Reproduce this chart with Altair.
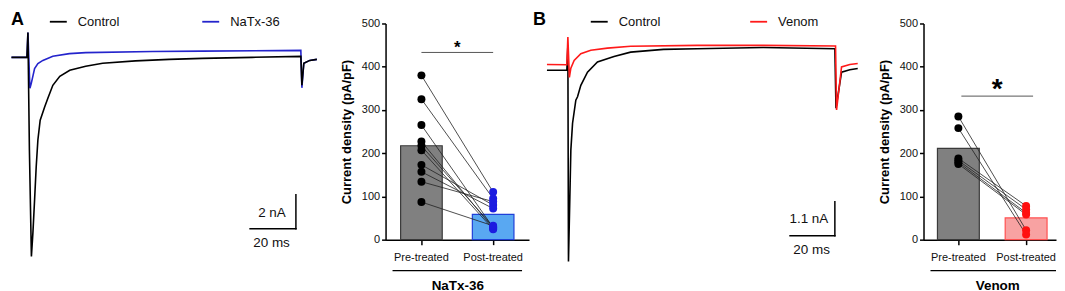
import altair as alt
import pandas as pd

FONT = "Liberation Sans"

# ---------------- Panel A traces (time in ms, current in nA) ----------------
a_ctrl_t = [0.2, 6.96, 7.39, 8.04, 8.91, 9.57, 10.3, 11.0, 11.74, 12.74, 14.65, 16.09, 18.26,
            21.3, 25.65, 32.6, 40.0, 54.3, 69.1, 83.5, 105.2, 126.5, 126.96, 127.8, 130.4, 133.5]
a_ctrl_i = [0.0, 0.0, 1.47, -5.47, -11.76, -10.35, -8.41, -6.47, -4.88, -3.71, -2.94, -2.41, -1.65,
            -1.12, -0.76, -0.53, -0.35, -0.21, -0.12, -0.06, 0.0, 0.06, -1.65, -0.35, -0.18, -0.12]
a_trt_t = [0.2, 6.96, 7.39, 8.26, 8.83, 10.3, 11.74, 13.91, 18.26, 25.5, 32.6, 61.7, 83.5,
           126.5, 126.96, 127.8, 130.4, 133.5]
a_trt_i = [0.0, 0.0, 1.47, -1.82, -1.55, -0.66, -0.37, -0.18, 0.06, 0.22, 0.28, 0.35, 0.37,
           0.41, -1.80, -0.35, -0.18, -0.12]

# ---------------- Panel B traces ----------------
b_ctrl_t = [3.56, 12.44, 12.89, 13.16, 13.91, 14.22, 14.98, 16.44, 17.2, 18.67, 21.64, 26.09,
            33.47, 40.89, 55.56, 70.53, 100.0, 132.0, 132.5, 134.98, 138.67, 142.2]
b_ctrl_i = [0.0, 0.0, 0.81, -6.21, -3.66, -2.59, -1.72, -0.97, -0.86, -0.49, -0.06, 0.27,
            0.45, 0.59, 0.68, 0.70, 0.74, 0.70, -1.23, -0.06, 0.02, 0.06]
b_trt_t = [3.56, 12.44, 12.89, 13.56, 14.22, 15.69, 18.67, 23.11, 30.53, 40.89, 70.53, 100.0,
           132.3, 132.76, 134.98, 138.67, 142.2]
b_trt_i = [0.19, 0.18, 1.08, -0.23, 0.07, 0.32, 0.54, 0.65, 0.72, 0.78, 0.81, 0.81,
           0.79, -1.29, 0.11, 0.19, 0.22]

# ---------------- Bar data (pA/pF), paired by index ----------------
groups = ["Pre-treated", "Post-treated"]
a_pre = [380, 325, 265, 227, 217, 207, 173, 157, 134, 87]
a_post = [110, 95, 28, 26, 30, 24, 80, 72, 88, 32]
b_pre = [285, 258, 188, 183, 179, 175]
b_post = [22, 12, 78, 70, 62, 58]


def trace_panel(ctrl_t, ctrl_i, trt_t, trt_i, trt_name, trt_color, width, height, xdom, ydom,
                ctrl_on_top, letter, letter_x, legend_x, col_pad, sb_t, sb_i, sb_ms, sb_na,
                na_label, na_xy, ms_xy):
    ctrl = pd.DataFrame({"t": ctrl_t, "i": ctrl_i, "k": list(range(len(ctrl_t))), "cond": "Control"})
    trt = pd.DataFrame({"t": trt_t, "i": trt_i, "k": list(range(len(trt_t))), "cond": trt_name})
    xsc = alt.Scale(domain=xdom, nice=False, zero=False)
    ysc = alt.Scale(domain=ydom, nice=False, zero=False)
    color = alt.Color(
        "cond:N",
        scale=alt.Scale(domain=["Control", trt_name], range=["#000000", trt_color]),
        legend=alt.Legend(title=None, orient="none", legendX=legend_x, legendY=-11.5,
                          direction="horizontal", symbolType="stroke", symbolSize=289,
                          symbolStrokeWidth=1.8, labelFontSize=13, labelOffset=10,
                          columnPadding=col_pad, padding=0, labelColor="#111111"),
    )

    def line(df):
        return alt.Chart(df).mark_line(strokeWidth=1.6).encode(
            x=alt.X("t:Q", scale=xsc, axis=None),
            y=alt.Y("i:Q", scale=ysc, axis=None),
            color=color, order="k:Q")

    layers = [line(trt), line(ctrl)] if ctrl_on_top else [line(ctrl), line(trt)]

    hdf = pd.DataFrame({"x1": [sb_t - sb_ms], "x2": [sb_t], "y": [sb_i]})
    hrule = alt.Chart(hdf).mark_rule(strokeWidth=1.5, color="black", strokeCap="square").encode(
        x=alt.X("x1:Q", scale=xsc, axis=None), x2="x2:Q", y=alt.Y("y:Q", scale=ysc, axis=None))
    vdf = pd.DataFrame({"x": [sb_t], "y1": [sb_i], "y2": [sb_i + sb_na]})
    vrule = alt.Chart(vdf).mark_rule(strokeWidth=1.5, color="black", strokeCap="square").encode(
        x=alt.X("x:Q", scale=xsc, axis=None), y=alt.Y("y1:Q", scale=ysc, axis=None), y2="y2:Q")
    tdf = pd.DataFrame({"x": [na_xy[0], ms_xy[0]], "y": [na_xy[1], ms_xy[1]],
                        "label": [na_label, f"{sb_ms:g} ms"]})
    sbtext = alt.Chart(tdf).mark_text(fontSize=13.5, align="center", baseline="middle",
                                      color="#111111").encode(
        x=alt.X("x:Q", scale=xsc, axis=None), y=alt.Y("y:Q", scale=ysc, axis=None), text="label:N")
    ldf = pd.DataFrame({"label": [letter]})
    let = alt.Chart(ldf).mark_text(fontSize=18, fontWeight="bold", align="left", baseline="top",
                                   color="black").encode(
        x=alt.value(letter_x), y=alt.value(-12), text="label:N")
    return alt.layer(*layers, hrule, vrule, sbtext, let).properties(width=width, height=height)


def bar_panel(pre, post, xtitle, post_fill, post_stroke, post_point, width, pad_inner,
              pad_outer, align, title_x, sig_value, star_size, star_dy, sig_x1, sig_x2,
              br_x1, br_x2):
    n = len(pre)
    df = pd.DataFrame({"group": [groups[0]] * n + [groups[1]] * n,
                       "value": list(pre) + list(post),
                       "pair": list(range(n)) * 2})
    xenc = alt.X("group:N",
                 scale=alt.Scale(domain=groups, paddingInner=pad_inner, paddingOuter=pad_outer,
                                 align=align),
                 axis=alt.Axis(title=xtitle, labelAngle=0, labelFontSize=11, labelPadding=7,
                               tickSize=5, titleFontSize=13.5, titleFontWeight="bold",
                               titlePadding=16, titleX=title_x, titleAlign="center",
                               domainColor="black", domainWidth=1.5,
                               tickColor="black", tickWidth=1.5, labelColor="#111111",
                               titleColor="black"))

    def yenc(field):
        return alt.Y(field, scale=alt.Scale(domain=[0, 500], nice=False),
                     axis=alt.Axis(values=[0, 100, 200, 300, 400, 500],
                                   title="Current density (pA/pF)", titleFontSize=13,
                                   titleFontWeight="bold", titlePadding=8, labelFontSize=11,
                                   labelPadding=2, tickSize=4, domainColor="black",
                                   domainWidth=1.5, tickColor="black", tickWidth=1.5,
                                   grid=False, labelColor="#111111", titleColor="black"))

    bars = alt.Chart(df).mark_bar(strokeWidth=1.2).encode(
        x=xenc, y=yenc("mean(value):Q"),
        fill=alt.Fill("group:N", scale=alt.Scale(domain=groups, range=["#808080", post_fill]), legend=None),
        stroke=alt.Stroke("group:N", scale=alt.Scale(domain=groups, range=["#3a3a3a", post_stroke]), legend=None))
    lines = alt.Chart(df).mark_line(strokeWidth=0.8, color="#222222").encode(
        x=xenc, y=yenc("value:Q"), detail="pair:N")
    pts = alt.Chart(df).mark_circle(size=64, opacity=1).encode(
        x=xenc, y=yenc("value:Q"),
        color=alt.Color("group:N", scale=alt.Scale(domain=groups, range=["#000000", post_point]), legend=None))
    sdf = pd.DataFrame({"value": [sig_value], "star": ["*"]})
    sig = alt.Chart(sdf).mark_rule(strokeWidth=1, color="#555555").encode(
        x=alt.value(sig_x1), x2=alt.value(sig_x2), y=yenc("value:Q"))
    star = alt.Chart(sdf).mark_text(fontSize=star_size, fontWeight="bold", align="center",
                                    baseline="alphabetic", dy=star_dy, color="black").encode(
        x=alt.value((sig_x1 + sig_x2) / 2), y=yenc("value:Q"), text="star:N")
    bdf = pd.DataFrame({"k": [0]})
    bracket = alt.Chart(bdf).mark_rule(strokeWidth=1.2, color="black").encode(
        x=alt.value(br_x1), x2=alt.value(br_x2), y=alt.value(248))
    return alt.layer(bars, lines, pts, sig, star, bracket).properties(width=width, height=217)


traceA = trace_panel(a_ctrl_t, a_ctrl_i, a_trt_t, a_trt_i, "NaTx-36", "#2424cc",
                     366, 240, [0, 159.13], [-12.118, 2.0], True, "A", 0, 38, 79,
                     124.35, -10.12, 20, 2, "2 nA", (113.9, -9.18), (113.7, -10.94))
barA = bar_panel(a_pre, a_post, "NaTx-36", "#59a8f2", "#2040d8", "#1c1ce0", 144,
                 0.42, 0.21, 0.5, 72, 433, 17, 1, 36, 108, 7, 137)
traceB = trace_panel(b_ctrl_t, b_ctrl_i, b_trt_t, b_trt_i, "Venom", "#ff1a1a",
                     376, 240, [0, 167.1], [-6.246, 1.521], False, "B", -6, 51, 86,
                     132.0, -5.372, 20, 1.1, "1.1 nA", (120.4, -4.83), (121.6, -5.825))
barB = bar_panel(b_pre, b_post, "Venom", "#f8a2a2", "#ff5050", "#ff1010", 133,
                 0.382, 0.169, 0.609, 74, 332, 28, 2, 38, 110, 7, 133)

chart = alt.hconcat(traceA, barA, traceB, barB, spacing=10, bounds="flush",
                    padding={"top": 3, "left": 0, "right": 0, "bottom": 0}).resolve_scale(
    color="independent", fill="independent", stroke="independent"
).configure(font=FONT).configure_view(stroke=None).configure_axis(grid=False)

chart.save("out.html", embed_options={"renderer": "svg", "actions": False})
